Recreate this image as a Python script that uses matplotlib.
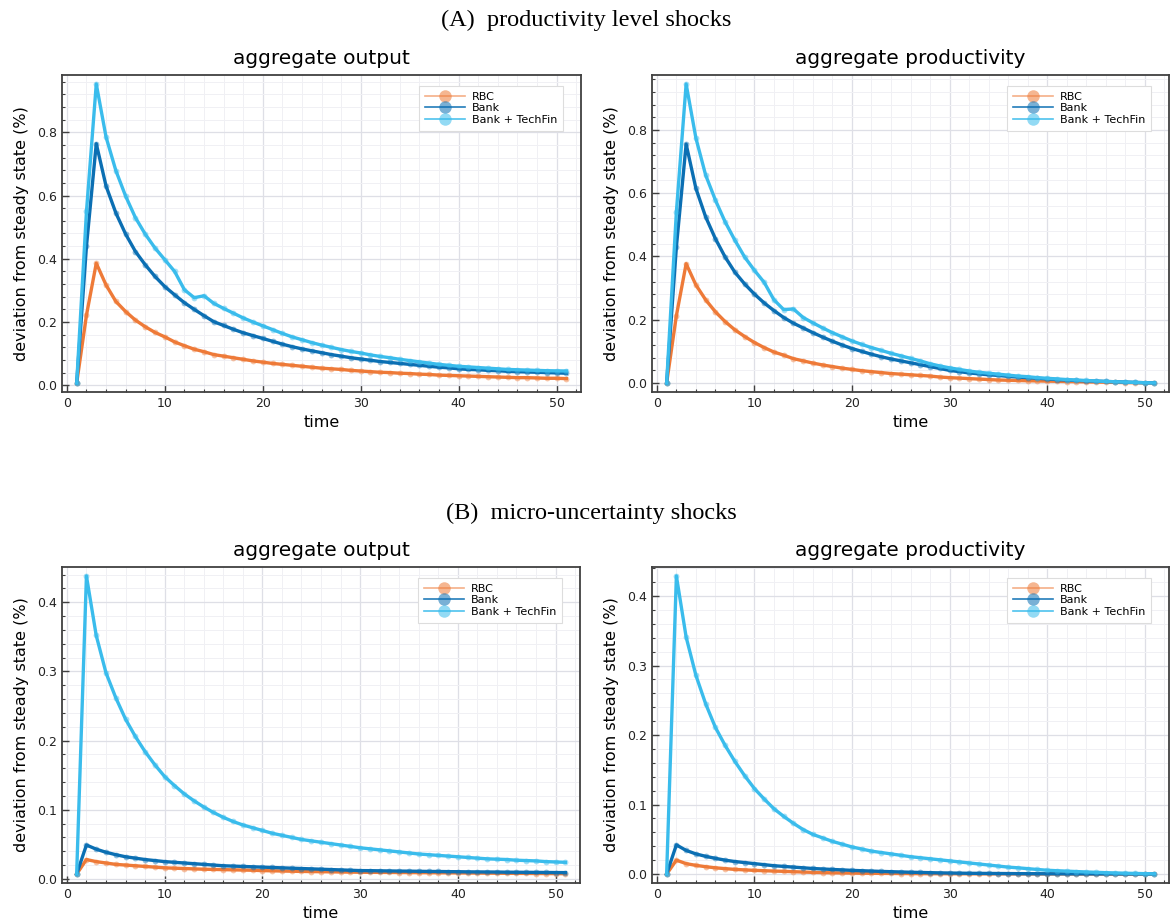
import numpy as np
import matplotlib
matplotlib.use("Agg")
import matplotlib.pyplot as plt
from matplotlib.lines import Line2D
from matplotlib.ticker import MultipleLocator, FormatStrFormatter

# ---------------- data ----------------
time = list(range(1, 52))
series_names = ["RBC", "Bank", "Bank + TechFin"]

# (A) productivity level shocks - aggregate output
a_out_rbc = [0.007, 0.222, 0.386, 0.317, 0.265, 0.233, 0.206, 0.185, 0.167, 0.153,
             0.137, 0.125, 0.114, 0.106, 0.097, 0.092, 0.087, 0.082, 0.077, 0.073,
             0.069, 0.066, 0.063, 0.060, 0.057, 0.054, 0.052, 0.050, 0.047, 0.045,
             0.043, 0.041, 0.040, 0.038, 0.037, 0.035, 0.034, 0.032, 0.031, 0.030,
             0.029, 0.028, 0.027, 0.026, 0.025, 0.024, 0.024, 0.023, 0.022, 0.022, 0.021]
a_out_bank = [0.007, 0.440, 0.764, 0.630, 0.545, 0.478, 0.423, 0.381, 0.344, 0.312,
              0.286, 0.261, 0.240, 0.220, 0.201, 0.189, 0.177, 0.166, 0.157, 0.148,
              0.139, 0.130, 0.122, 0.115, 0.109, 0.103, 0.097, 0.092, 0.087, 0.083,
              0.079, 0.075, 0.072, 0.069, 0.066, 0.063, 0.060, 0.057, 0.055, 0.052,
              0.050, 0.049, 0.047, 0.046, 0.044, 0.043, 0.042, 0.041, 0.040, 0.039, 0.038]
a_out_tech = [0.007, 0.550, 0.953, 0.785, 0.679, 0.598, 0.530, 0.478, 0.434, 0.397,
              0.360, 0.302, 0.277, 0.283, 0.259, 0.243, 0.228, 0.213, 0.200, 0.188,
              0.176, 0.164, 0.153, 0.144, 0.135, 0.127, 0.120, 0.113, 0.107, 0.102,
              0.096, 0.091, 0.087, 0.082, 0.078, 0.074, 0.070, 0.066, 0.063, 0.060,
              0.058, 0.056, 0.054, 0.052, 0.050, 0.049, 0.048, 0.047, 0.046, 0.0455, 0.045]

# (A) productivity level shocks - aggregate productivity
a_prod_rbc = [0.0, 0.213, 0.377, 0.310, 0.263, 0.225, 0.194, 0.168, 0.147, 0.128,
              0.112, 0.098, 0.088, 0.077, 0.070, 0.063, 0.057, 0.052, 0.047, 0.043,
              0.039, 0.036, 0.033, 0.030, 0.028, 0.026, 0.024, 0.022, 0.019, 0.017,
              0.0155, 0.014, 0.0125, 0.011, 0.0095, 0.0088, 0.008, 0.0072, 0.0066, 0.006,
              0.0054, 0.0048, 0.0042, 0.0036, 0.003, 0.0025, 0.002, 0.0015, 0.001, 0.0006, 0.0003]
a_prod_bank = [0.0, 0.430, 0.755, 0.615, 0.525, 0.456, 0.398, 0.350, 0.313, 0.281,
               0.253, 0.229, 0.207, 0.189, 0.174, 0.159, 0.145, 0.132, 0.120, 0.109,
               0.100, 0.091, 0.083, 0.076, 0.070, 0.064, 0.058, 0.052, 0.046, 0.040,
               0.036, 0.032, 0.029, 0.026, 0.024, 0.021, 0.019, 0.017, 0.015, 0.013,
               0.011, 0.0095, 0.008, 0.007, 0.006, 0.005, 0.004, 0.003, 0.002, 0.001, 0.0005]
a_prod_tech = [0.0, 0.541, 0.945, 0.774, 0.657, 0.578, 0.509, 0.451, 0.398, 0.356,
               0.318, 0.263, 0.232, 0.234, 0.207, 0.190, 0.174, 0.159, 0.146, 0.133,
               0.122, 0.112, 0.103, 0.094, 0.086, 0.078, 0.070, 0.061, 0.054, 0.048,
               0.043, 0.038, 0.034, 0.031, 0.028, 0.025, 0.022, 0.020, 0.017, 0.015,
               0.013, 0.011, 0.0095, 0.008, 0.0065, 0.005, 0.004, 0.003, 0.002, 0.001, 0.0005]

# (B) micro-uncertainty shocks - aggregate output
b_out_rbc = [0.007, 0.028, 0.025, 0.023, 0.021, 0.020, 0.019, 0.018, 0.017, 0.016,
             0.0155, 0.015, 0.0145, 0.014, 0.0137, 0.0134, 0.0131, 0.0128, 0.0125, 0.012,
             0.0117, 0.0114, 0.0111, 0.0108, 0.0106, 0.0104, 0.0102, 0.0100, 0.0098, 0.0096,
             0.0095, 0.0094, 0.0093, 0.0092, 0.0091, 0.0090, 0.0089, 0.0088, 0.0087, 0.0086,
             0.0085, 0.0084, 0.0083, 0.0082, 0.0081, 0.0080, 0.0079, 0.0078, 0.0077, 0.0076, 0.0075]
b_out_bank = [0.007, 0.049, 0.043, 0.0385, 0.035, 0.032, 0.030, 0.028, 0.0265, 0.025,
              0.024, 0.023, 0.022, 0.021, 0.020, 0.019, 0.0185, 0.018, 0.0175, 0.017,
              0.0165, 0.016, 0.0155, 0.015, 0.0145, 0.014, 0.0135, 0.013, 0.0125, 0.012,
              0.0119, 0.0117, 0.0115, 0.0113, 0.0112, 0.0110, 0.0108, 0.0107, 0.0105, 0.0104,
              0.0102, 0.0101, 0.0100, 0.0099, 0.0097, 0.0096, 0.0095, 0.0094, 0.0093, 0.0092, 0.0091]
b_out_tech = [0.007, 0.438, 0.352, 0.298, 0.262, 0.231, 0.206, 0.184, 0.165, 0.148,
              0.135, 0.123, 0.113, 0.104, 0.096, 0.089, 0.083, 0.078, 0.074, 0.070,
              0.066, 0.063, 0.060, 0.057, 0.055, 0.053, 0.051, 0.049, 0.047, 0.045,
              0.0435, 0.042, 0.0405, 0.039, 0.0375, 0.036, 0.035, 0.034, 0.033, 0.032,
              0.031, 0.030, 0.029, 0.0285, 0.028, 0.027, 0.0265, 0.026, 0.025, 0.0245, 0.024]

# (B) micro-uncertainty shocks - aggregate productivity
b_prod_rbc = [0.0, 0.020, 0.015, 0.0125, 0.0106, 0.009, 0.0078, 0.0067, 0.006, 0.0053,
              0.0048, 0.0043, 0.0039, 0.0034, 0.0029, 0.0024, 0.0021, 0.0018, 0.0016, 0.0014,
              0.0012, 0.0011, 0.0010, 0.0009, 0.0008, 0.0007, 0.0006, 0.0005, 0.0005, 0.0004,
              0.0004, 0.0004, 0.0003, 0.0003, 0.0003, 0.0003, 0.0002, 0.0002, 0.0002, 0.0002,
              0.0002, 0.0002, 0.0001, 0.0001, 0.0001, 0.0001, 0.0001, 0.0001, 0.0001, 0.0001, 0.0001]
b_prod_bank = [0.0, 0.042, 0.034, 0.029, 0.0255, 0.0226, 0.020, 0.018, 0.0165, 0.015,
               0.0135, 0.012, 0.011, 0.010, 0.009, 0.008, 0.0073, 0.0066, 0.006, 0.0053,
               0.0048, 0.0043, 0.0038, 0.0034, 0.003, 0.0026, 0.0023, 0.002, 0.0017, 0.0015,
               0.0013, 0.0011, 0.0010, 0.0009, 0.0008, 0.0007, 0.0006, 0.0005, 0.0005, 0.0004,
               0.0004, 0.0003, 0.0003, 0.0003, 0.0002, 0.0002, 0.0002, 0.0001, 0.0001, 0.0001, 0.0001]
b_prod_tech = [0.0, 0.429, 0.341, 0.286, 0.245, 0.211, 0.185, 0.162, 0.1415, 0.123,
               0.108, 0.094, 0.083, 0.073, 0.064, 0.057, 0.052, 0.047, 0.043, 0.039,
               0.036, 0.033, 0.031, 0.029, 0.027, 0.025, 0.0235, 0.022, 0.0205, 0.019,
               0.0175, 0.016, 0.0145, 0.013, 0.0115, 0.010, 0.009, 0.0078, 0.0066, 0.0055,
               0.0048, 0.0042, 0.0036, 0.003, 0.0025, 0.002, 0.0016, 0.0012, 0.0009, 0.0006, 0.0004]

section_titles = ["(A)  productivity level shocks", "(B)  micro-uncertainty shocks"]
panel_titles = ["aggregate output", "aggregate productivity"]
xlabel = "time"
ylabel = "deviation from steady state (%)"
xticks = [0, 10, 20, 30, 40, 50]

panels = [
    [(a_out_rbc, a_out_bank, a_out_tech), (a_prod_rbc, a_prod_bank, a_prod_tech)],
    [(b_out_rbc, b_out_bank, b_out_tech), (b_prod_rbc, b_prod_bank, b_prod_tech)],
]
ymajor = [0.2, 0.1]

# ---------------- style ----------------
colors = ["#EE7A38", "#0B6FB3", "#3ABCEC"]
plt.rcParams["font.family"] = ["DejaVu Sans"]

W, H = 1172, 923
fig = plt.figure(figsize=(W / 100, H / 100), dpi=100)

# axes boxes in pixel coordinates: (left, top, right, bottom)
boxes = [
    [(62, 75, 581, 392), (652, 75, 1169, 392)],
    [(62, 567, 580, 883), (652, 567, 1169, 883)],
]

def px_box(b):
    l, t, r, bt = b
    return [l / W, 1 - bt / H, (r - l) / W, (bt - t) / H]

grid_major = "#dedfe6"
grid_minor = "#f0f0f4"
spine_c = "#404040"

for row in range(2):
    for col in range(2):
        ax = fig.add_axes(px_box(boxes[row][col]))
        data = panels[row][col]
        for vals, c, name in zip(data, colors, series_names):
            ax.plot(time, vals, color=c, lw=2.4, zorder=3,
                    marker="o", markersize=4.2, markeredgewidth=0,
                    markerfacecolor=matplotlib.colors.to_rgba(c, 0.45))
        ax.margins(x=0.03, y=0.03)
        ax.set_xticks(xticks)
        ax.xaxis.set_minor_locator(MultipleLocator(2))
        ax.yaxis.set_major_locator(MultipleLocator(ymajor[row]))
        ax.yaxis.set_minor_locator(MultipleLocator(ymajor[row] / 5))
        ax.yaxis.set_major_formatter(FormatStrFormatter("%.1f"))
        ax.grid(True, which="major", color=grid_major, lw=0.9, zorder=0)
        ax.grid(True, which="minor", color=grid_minor, lw=0.7, zorder=0)
        ax.set_axisbelow(True)
        ax.tick_params(which="both", direction="in", colors=spine_c,
                       labelcolor="#222222", top=False, right=False, labelsize=9)
        ax.tick_params(which="major", length=5, width=1.0)
        ax.tick_params(which="minor", length=2.5, width=0.8)
        for s in ax.spines.values():
            s.set_color(spine_c)
            s.set_linewidth(1.3)
        ax.set_title(panel_titles[col], fontsize=14.5, pad=8)
        ax.set_xlabel(xlabel, fontsize=11.5, labelpad=4)
        ax.set_ylabel(ylabel, fontsize=11.5, labelpad=6)

        handles = [Line2D([0], [0], color=matplotlib.colors.to_rgba(c, 0.9 if i else 0.6), lw=1.2,
                          marker="o", markersize=9,
                          markerfacecolor=matplotlib.colors.to_rgba(c, 0.55),
                          markeredgewidth=0)
                   for i, c in enumerate(colors)]
        leg = ax.legend(handles, series_names, loc="upper right",
                        bbox_to_anchor=(0.966, 0.966), borderaxespad=0,
                        fontsize=8, handlelength=3.6, handletextpad=0.6,
                        labelspacing=0.12, borderpad=0.55, fancybox=False,
                        framealpha=1, edgecolor="#dddddd")
        leg.get_frame().set_linewidth(0.8)

fig.text(0.5, 1 - 20 / H, section_titles[0], ha="center", va="center",
         fontsize=17.5, family=["Liberation Serif"])
fig.text(0.505, 1 - 513 / H, section_titles[1], ha="center", va="center",
         fontsize=17.5, family=["Liberation Serif"])

fig.savefig("out.png", dpi=100)
